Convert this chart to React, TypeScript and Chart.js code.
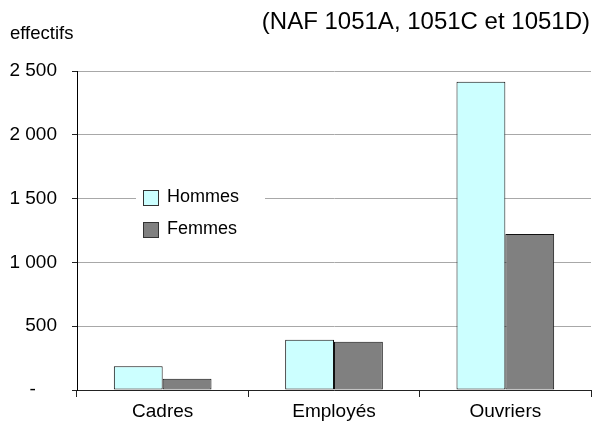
import React, { useEffect, useRef } from "react";
import { Chart, registerables } from "chart.js";

Chart.register(...registerables);

const categories = ["Cadres", "Employés", "Ouvriers"];
const hommes = [186, 394, 2416];
const femmes = [89, 379, 1223];
const seriesLabels = ["Hommes", "Femmes"];
const yTicks = [0, 500, 1000, 1500, 2000, 2500];
const titleText = "(NAF 1051A, 1051C et 1051D)";
const yUnitText = "effectifs";

const FONT = "'Liberation Sans', Arial, sans-serif";

const fmt = (v: number) => {
  if (v === 0) return "-\u00a0\u00a0\u00a0\u00a0";
  const s = String(Math.round(v));
  return s.replace(/\B(?=(\d{3})+(?!\d))/g, " ");
};

const headerPlugin = {
  id: "header",
  beforeDraw(chart: any) {
    const { ctx } = chart;
    ctx.save();
    ctx.fillStyle = "#000";
    ctx.textBaseline = "middle";
    ctx.font = `24px ${FONT}`;
    ctx.textAlign = "right";
    ctx.fillText(titleText, 590, 22);
    ctx.font = `18.5px ${FONT}`;
    ctx.textAlign = "left";
    ctx.fillText(yUnitText, 10, 34);
    ctx.restore();
  },
};

const legendPlugin = {
  id: "innerLegend",
  afterDatasetsDraw(chart: any) {
    const { ctx, chartArea } = chart;
    const x0 = chartArea.left + 59;
    const y0 = chartArea.top + 111;
    ctx.save();
    ctx.fillStyle = "#fff";
    ctx.fillRect(x0, y0, 129, 62);
    chart.data.datasets.forEach((ds: any, i: number) => {
      const by = y0 + 8 + i * 32;
      ctx.fillStyle = ds.backgroundColor;
      ctx.fillRect(x0 + 7.5, by + 0.5, 15, 15);
      ctx.strokeStyle = "#333";
      ctx.lineWidth = 1;
      ctx.strokeRect(x0 + 7.5, by + 0.5, 15, 15);
      ctx.fillStyle = "#000";
      ctx.font = `18px ${FONT}`;
      ctx.textAlign = "left";
      ctx.textBaseline = "middle";
      ctx.fillText(ds.label, x0 + 31, by + 7);
    });
    ctx.restore();
  },
};

export default function App() {
  const ref = useRef<HTMLCanvasElement | null>(null);
  useEffect(() => {
    if (!ref.current) return;
    const chart = new Chart(ref.current, {
      type: "bar",
      data: {
        labels: categories,
        datasets: [
          {
            label: seriesLabels[0],
            data: hommes,
            backgroundColor: "#CCFFFF",
            borderColor: "#111",
            borderWidth: 1,
            borderSkipped: false,
          },
          {
            label: seriesLabels[1],
            data: femmes,
            backgroundColor: "#808080",
            borderColor: "#111",
            borderWidth: 1,
            borderSkipped: false,
          },
        ],
      },
      options: {
        animation: false,
        responsive: false,
        maintainAspectRatio: false,
        layout: { padding: { top: 71, right: 4, left: 0, bottom: 0 } },
        datasets: { bar: { categoryPercentage: 0.57, barPercentage: 1.0 } },
        plugins: {
          legend: { display: false },
          title: { display: false },
          tooltip: { enabled: false },
        },
        scales: {
          x: {
            offset: true,
            grid: {
              offset: true,
              drawOnChartArea: true,
              color: (c: any) => (c.index === categories.length ? "#a0a0a0" : "rgba(0,0,0,0)"),
              tickColor: "#222",
              tickLength: 7,
            },
            border: { color: "#222", width: 1 },
            ticks: {
              color: "#000",
              font: { family: FONT, size: 19 },
              padding: 3,
            },
            afterFit: (s: any) => {
              s.height = 35;
            },
          },
          y: {
            min: 0,
            max: 2500,
            afterBuildTicks: (s: any) => {
              s.ticks = yTicks.map((v) => ({ value: v }));
            },
            grid: {
              color: "#a8a8a8",
              tickColor: "#222",
              tickLength: 5,
            },
            border: { color: "#000", width: 1 },
            ticks: {
              color: "#000",
              font: { family: FONT, size: 19 },
              padding: 15,
              callback: (v: any) => fmt(Number(v)),
            },
            afterFit: (s: any) => {
              s.width = 77;
            },
          },
        },
      },
      plugins: [headerPlugin, legendPlugin],
    });
    return () => chart.destroy();
  }, []);
  return (
    <div style={{ position: "absolute", left: 0, top: 0, width: 595, height: 425, background: "#fff" }}>
      <canvas ref={ref} width={595} height={425} style={{ width: 595, height: 425, display: "block" }} />
    </div>
  );
}
